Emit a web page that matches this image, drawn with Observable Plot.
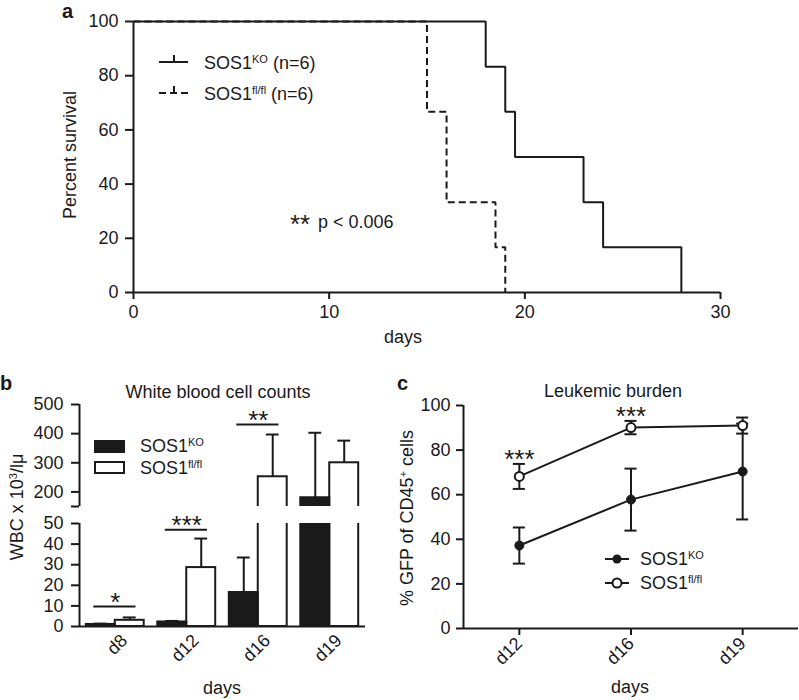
<!DOCTYPE html>
<html><head><meta charset="utf-8">
<script src="https://cdn.jsdelivr.net/npm/d3@7"></script>
<script src="https://cdn.jsdelivr.net/npm/@observablehq/plot@0.6"></script>
<style>
html,body{margin:0;padding:0;background:#fff;}
#fig{position:relative;width:799px;height:700px;overflow:hidden;font-family:"Liberation Sans",Arial,Helvetica,sans-serif;color:#1a1a1a;background:#fff;}
.t{position:absolute;white-space:nowrap;font-size:18px;line-height:1;}
.t sup{font-size:11px;vertical-align:baseline;position:relative;top:-6px;line-height:0;}
</style></head><body><div id="fig"></div>
<script>
// ---------- Panel a: survival ----------
const survDaysKO = [0, 18, 19, 19.5, 23, 24, 28];
const survPctKO  = [100, 83.3, 66.7, 50, 33.3, 16.7, 0];
const survDaysFL = [0, 15, 16, 18.5, 19];
const survPctFL  = [100, 66.7, 33.3, 16.7, 0];
const survXTicks = [0, 10, 20, 30];
const survYTicks = [0, 20, 40, 60, 80, 100];

// ---------- Panel b: white blood cell counts ----------
const wbcDays   = ["d8", "d12", "d16", "d19"];
const wbcKO     = [1, 2.2, 16.5, 180];
const wbcKOsd   = [0.4, 0.5, 17, 223];
const wbcFL     = [3, 28.6, 252, 300];
const wbcFLsd   = [1.4, 14.1, 145, 76];
const wbcSigDays   = ["d8", "d12", "d16"];
const wbcSigY      = [9.7, 47, 431];
const wbcSigLabels = ["*", "***", "**"];
const wbcLowTicks  = [0, 10, 20, 30, 40, 50];
const wbcHighTicks = [150, 200, 300, 400, 500];

// ---------- Panel c: leukemic burden ----------
const gfpDays  = ["d12", "d16", "d19"];
const gfpKO    = [37.2, 57.8, 70.4];
const gfpKOerr = [8.1, 13.9, 21.5];
const gfpFL    = [68.2, 90.1, 91.0];
const gfpFLerr = [5.6, 3.0, 3.6];
const gfpSig   = ["***", "***", ""];
const gfpTicks = [0, 20, 40, 60, 80, 100];

const ink = "#1a1a1a";
const FONT = '"Liberation Sans", Arial, Helvetica, sans-serif';
const baseStyle = {fontFamily: FONT, fontSize: "18px", color: ink, background: "transparent", overflow: "visible"};
const fig = document.getElementById("fig");

function place(node, left, top) {
  node.style.position = "absolute";
  node.style.left = left + "px";
  node.style.top = top + "px";
  fig.appendChild(node);
}
function txt(html, x, y, o = {}) {
  const el = document.createElement("div");
  el.className = "t";
  el.innerHTML = html;
  el.style.fontSize = (o.size || 18) + "px";
  if (o.bold) el.style.fontWeight = "bold";
  const tx = o.anchor === "start" ? "0%" : o.anchor === "end" ? "-100%" : "-50%";
  el.style.transform = `translate(${tx},-50%)` + (o.rotate ? ` rotate(${o.rotate}deg)` : "");
  place(el, x, y);
}

// ----- Panel a plot -----
const survRows = [
  ...survDaysKO.map((d, i) => ({day: d, pct: survPctKO[i], grp: "KO"})),
  ...survDaysFL.map((d, i) => ({day: d, pct: survPctFL[i], grp: "FL"}))
];
const lineStyle = {stroke: ink, strokeWidth: 2, strokeLinecap: "butt", strokeLinejoin: "miter"};
const plotA = Plot.plot({
  width: 799, height: 350, marginLeft: 133, marginRight: 79, marginTop: 21, marginBottom: 58,
  style: baseStyle,
  x: {domain: [0, 30]},
  y: {domain: [0, 100]},
  marks: [
    Plot.line(survRows.filter(d => d.grp === "FL"), {x: "day", y: "pct", curve: "step-after", strokeDasharray: "7,4", ...lineStyle}),
    Plot.line(survRows.filter(d => d.grp === "KO"), {x: "day", y: "pct", curve: "step-after", ...lineStyle}),
    Plot.ruleY([0], {stroke: ink, strokeWidth: 2}),
    Plot.ruleX([0], {stroke: ink, strokeWidth: 2}),
    Plot.axisX({ticks: survXTicks, tickSize: 7, tickPadding: 6, strokeWidth: 2, label: null}),
    Plot.axisY({ticks: survYTicks, tickSize: 8, tickPadding: 7, strokeWidth: 2, label: null})
  ]
});
place(plotA, 0, 0);

// ----- Panel b plots (broken axis) -----
const BW = 0.405;   // bar width in group units
const CAP = 0.09;   // half cap width
const wbcRows = wbcDays.flatMap((day, i) => [
  {day, i, grp: "KO", x1: i - BW, x2: i, mid: i - BW / 2, v: wbcKO[i], top: wbcKO[i] + wbcKOsd[i]},
  {day, i, grp: "FL", x1: i, x2: i + BW, mid: i + BW / 2, v: wbcFL[i], top: wbcFL[i] + wbcFLsd[i]}
]);
const sigRows = wbcSigDays.map((day, k) => ({i: wbcDays.indexOf(day), y: wbcSigY[k], label: wbcSigLabels[k]}));

function wbcPlot({yDomain, ticks, height, marginTop, marginBottom, lower}) {
  const inRange = d => d.y >= yDomain[0] && d.y <= yDomain[1];
  const marks = [
    Plot.rectY(wbcRows.filter(d => d.grp === "FL"), {x1: "x1", x2: "x2", y1: 0, y2: "v", fill: "white", stroke: ink, strokeWidth: 2, clip: true}),
    Plot.rectY(wbcRows.filter(d => d.grp === "KO"), {x1: "x1", x2: "x2", y1: 0, y2: "v", fill: ink, stroke: ink, strokeWidth: 2, clip: true}),
    Plot.ruleX(wbcRows, {x: "mid", y1: "v", y2: "top", stroke: ink, strokeWidth: 2, clip: true}),
    Plot.ruleY(wbcRows, {y: "top", x1: d => d.mid - CAP, x2: d => d.mid + CAP, stroke: ink, strokeWidth: 2, clip: true}),
    Plot.ruleY(sigRows.filter(inRange), {y: "y", x1: d => d.i - 0.3, x2: d => d.i + 0.29, stroke: ink, strokeWidth: 2}),
    Plot.text(sigRows.filter(inRange), {x: "i", y: "y", text: "label", fontSize: 26, dy: -4, fill: ink}),
    Plot.ruleX([-0.5], {stroke: ink, strokeWidth: 2}),
    Plot.axisY({ticks, tickSize: 8, tickPadding: 8, strokeWidth: 2, label: null, tickFormat: d => d === 150 ? "" : String(d)})
  ];
  if (lower) {
    marks.push(Plot.ruleY([0], {stroke: ink, strokeWidth: 2}));
    marks.push(Plot.axisX({ticks: [0, 1, 2, 3], tickFormat: i => wbcDays[i], tickSize: 0, tickRotate: -45, tickPadding: 11, dx: 9, label: null}));
  }
  return Plot.plot({
    width: 400, height, marginLeft: 79, marginRight: 35, marginTop, marginBottom,
    style: baseStyle,
    x: {domain: [-0.5, 3.5], axis: lower ? undefined : null},
    y: {domain: yDomain},
    marks
  });
}
place(wbcPlot({yDomain: [150, 500], ticks: wbcHighTicks, height: 120, marginTop: 14, marginBottom: 4, lower: false}), 0, 390);
place(wbcPlot({yDomain: [0, 50], ticks: wbcLowTicks, height: 190, marginTop: 13, marginBottom: 74, lower: true}), 0, 510);

// ----- Panel c plot -----
const gfpRows = gfpDays.flatMap((day, i) => [
  {day, i, grp: "KO", v: gfpKO[i], lo: gfpKO[i] - gfpKOerr[i], hi: gfpKO[i] + gfpKOerr[i], sig: ""},
  {day, i, grp: "FL", v: gfpFL[i], lo: gfpFL[i] - gfpFLerr[i], hi: gfpFL[i] + gfpFLerr[i], sig: gfpSig[i]}
]);
const C_CAP = 0.054;
const plotC = Plot.plot({
  width: 399, height: 320, marginLeft: 63, marginRight: 1, marginTop: 25, marginBottom: 72,
  style: baseStyle,
  x: {domain: [-0.5, 2.5]},
  y: {domain: [0, 100]},
  marks: [
    Plot.ruleX(gfpRows, {x: "i", y1: "lo", y2: "hi", stroke: ink, strokeWidth: 2}),
    Plot.ruleY(gfpRows, {y: "lo", x1: d => d.i - C_CAP, x2: d => d.i + C_CAP, stroke: ink, strokeWidth: 2}),
    Plot.ruleY(gfpRows, {y: "hi", x1: d => d.i - C_CAP, x2: d => d.i + C_CAP, stroke: ink, strokeWidth: 2}),
    Plot.line(gfpRows, {x: "i", y: "v", z: "grp", ...lineStyle}),
    Plot.dot(gfpRows.filter(d => d.grp === "KO"), {x: "i", y: "v", r: 4.5, fill: ink, stroke: ink, strokeWidth: 1}),
    Plot.dot(gfpRows.filter(d => d.grp === "FL"), {x: "i", y: "v", r: 4.5, fill: "white", stroke: ink, strokeWidth: 2}),
    Plot.text(gfpRows.filter(d => d.sig), {x: "i", y: "hi", text: "sig", fontSize: 26, dy: -4, fill: ink}),
    Plot.ruleX([-0.5], {stroke: ink, strokeWidth: 2}),
    Plot.ruleY([0], {stroke: ink, strokeWidth: 2}),
    Plot.axisY({ticks: gfpTicks, tickSize: 7, tickPadding: 6, strokeWidth: 2, label: null}),
    Plot.axisX({ticks: [0, 1, 2], tickFormat: i => gfpDays[i], tickSize: 7, tickRotate: -45, tickPadding: 5, strokeWidth: 2, label: null})
  ]
});
place(plotC, 400, 380);

// ----- Legends (swatches) -----
const ov = d3.create("svg").attr("width", 799).attr("height", 700)
  .style("pointer-events", "none").style("overflow", "visible");
// panel a legend
ov.append("line").attr("x1", 159).attr("x2", 188).attr("y1", 62).attr("y2", 62).attr("stroke", ink).attr("stroke-width", 2);
ov.append("line").attr("x1", 174).attr("x2", 174).attr("y1", 55).attr("y2", 62).attr("stroke", ink).attr("stroke-width", 2);
ov.append("line").attr("x1", 159).attr("x2", 188).attr("y1", 93).attr("y2", 93).attr("stroke", ink).attr("stroke-width", 2).attr("stroke-dasharray", "7,4");
ov.append("line").attr("x1", 174).attr("x2", 174).attr("y1", 86).attr("y2", 93).attr("stroke", ink).attr("stroke-width", 2);
// panel b legend
ov.append("rect").attr("x", 95).attr("y", 441).attr("width", 29).attr("height", 11).attr("fill", ink).attr("stroke", ink).attr("stroke-width", 2);
ov.append("rect").attr("x", 95).attr("y", 462).attr("width", 29).attr("height", 11).attr("fill", "white").attr("stroke", ink).attr("stroke-width", 2);
// panel c legend
ov.append("line").attr("x1", 605).attr("x2", 629).attr("y1", 559).attr("y2", 559).attr("stroke", ink).attr("stroke-width", 2);
ov.append("circle").attr("cx", 617).attr("cy", 559).attr("r", 4.5).attr("fill", ink);
ov.append("line").attr("x1", 605).attr("x2", 629).attr("y1", 583).attr("y2", 583).attr("stroke", ink).attr("stroke-width", 2);
ov.append("circle").attr("cx", 617).attr("cy", 583).attr("r", 4.5).attr("fill", "white").attr("stroke", ink).attr("stroke-width", 2);
place(ov.node(), 0, 0);

// ----- Texts -----
txt("a", 62, 11, {bold: true, size: 20, anchor: "start"});
txt("SOS1<sup>KO</sup> (n=6)", 204, 63, {anchor: "start"});
txt("SOS1<sup>fl/fl</sup> (n=6)", 204, 94, {anchor: "start"});
txt("**", 290, 224, {size: 26, anchor: "start"});
txt("p &lt; 0.006", 318, 222, {anchor: "start"});
txt("Percent survival", 70, 155, {rotate: -90});
txt("days", 403, 337);

txt("b", 0, 383, {bold: true, size: 20, anchor: "start"});
txt("White blood cell counts", 218, 392);
txt("WBC x 10<sup>3</sup>/lμ", 17, 507, {rotate: -90});
txt("SOS1<sup>KO</sup>", 140, 446, {anchor: "start"});
txt("SOS1<sup>fl/fl</sup>", 140, 468, {anchor: "start"});
txt("days", 222, 688);

txt("c", 397, 383, {bold: true, size: 20, anchor: "start"});
txt("Leukemic burden", 613, 391);
txt("% GFP of CD45<sup>+</sup> cells", 407, 518, {rotate: -90});
txt("SOS1<sup>KO</sup>", 640, 559, {anchor: "start"});
txt("SOS1<sup>fl/fl</sup>", 640, 583, {anchor: "start"});
txt("days", 630, 687);
</script></body></html>
